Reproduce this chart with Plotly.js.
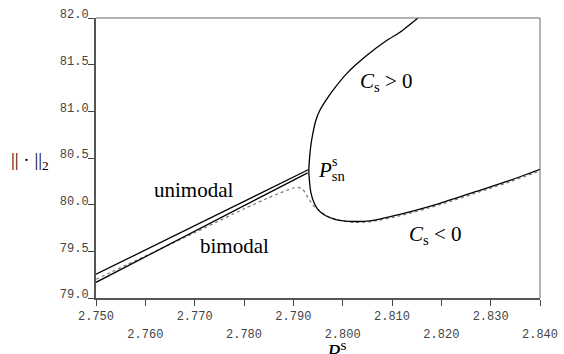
<!DOCTYPE html>
<html>
<head>
<meta charset="utf-8">
<script src="https://cdn.plot.ly/plotly-3.0.1.min.js"></script>
<style>html,body{margin:0;padding:0;background:#fff;}#chart{width:564px;height:354px;}</style>
</head>
<body>
<div id="chart"></div>
<script>
// ---- data ----
const upperP = [2.750, 2.7930];
const upperV = [79.254, 80.374];
const lowerP = [2.750, 2.7929];
const lowerV = [79.168, 80.341];

const foldP = [2.81527, 2.81162, 2.80898, 2.80492, 2.80086, 2.79802, 2.79660, 2.79538, 2.79457, 2.79396, 2.79355, 2.79325, 2.79314, 2.79325, 2.79355, 2.79416, 2.79497, 2.79639, 2.79842, 2.80146, 2.80552, 2.81160, 2.81972, 2.82783, 2.83391, 2.840];
const foldV = [82.000, 81.847, 81.761, 81.600, 81.407, 81.225, 81.118, 81.011, 80.904, 80.765, 80.636, 80.475, 80.363, 80.261, 80.132, 80.025, 79.950, 79.886, 79.843, 79.822, 79.827, 79.897, 80.015, 80.154, 80.261, 80.379];

const dotP = [2.750, 2.760, 2.770, 2.780, 2.785, 2.788, 2.7899, 2.7909, 2.7919, 2.7927, 2.7936, 2.7944, 2.7954, 2.7970, 2.7990, 2.8019, 2.8055, 2.8116, 2.8197, 2.8278, 2.8339, 2.840];
const dotV = [79.200, 79.450, 79.700, 79.955, 80.075, 80.140, 80.176, 80.186, 80.165, 80.100, 80.025, 79.972, 79.929, 79.875, 79.838, 79.811, 79.816, 79.881, 79.999, 80.138, 80.245, 80.363];

const xLabelRow1Vals = [2.75, 2.77, 2.79, 2.81, 2.83];
const xLabelRow1Text = ["2.750", "2.770", "2.790", "2.810", "2.830"];
const xLabelRow2Vals = [2.76, 2.78, 2.80, 2.82, 2.84];
const xLabelRow2Text = ["2.760", "2.780", "2.800", "2.820", "2.840"];
const yTickVals = [79.0, 79.5, 80.0, 80.5, 81.0, 81.5, 82.0];
const yTickText = ["79.0", "79.5", "80.0", "80.5", "81.0", "81.5", "82.0"];

// ---- plot ----
const serif = "Liberation Serif, Times New Roman, serif";
const mono = "Liberation Mono, Courier New, monospace";

const traces = [
  {x: dotP, y: dotV, mode: "lines", line: {color: "#777", width: 1.2, dash: "dot", shape: "spline", smoothing: 0.6}, hoverinfo: "skip"},
  {x: upperP, y: upperV, mode: "lines", line: {color: "#000", width: 1.3}, hoverinfo: "skip"},
  {x: lowerP, y: lowerV, mode: "lines", line: {color: "#000", width: 1.3}, hoverinfo: "skip"},
  {x: foldP, y: foldV, mode: "lines", line: {color: "#000", width: 1.3, shape: "spline", smoothing: 0.5}, hoverinfo: "skip"},
  {x: xLabelRow2Vals, y: xLabelRow2Vals.map(() => null), xaxis: "x2", yaxis: "y", mode: "lines", hoverinfo: "skip", showlegend: false}
];

const axisCommon = {
  showgrid: false, zeroline: false,
  tickfont: {family: mono, size: 12, color: "#444"}
};

const allXTicks = xLabelRow1Vals.concat(xLabelRow2Vals).sort();

const layout = {
  width: 564, height: 354,
  margin: {l: 96, r: 24, t: 18, b: 56},
  paper_bgcolor: "#fff", plot_bgcolor: "#fff",
  showlegend: false,
  xaxis: Object.assign({}, axisCommon, {
    range: [2.75, 2.84], autorange: false,
    tickmode: "array", tickvals: allXTicks,
    ticktext: allXTicks.map(v => {
      const i = xLabelRow1Vals.indexOf(v); return i >= 0 ? xLabelRow1Text[i] : "";
    }),
    ticks: "outside", ticklen: 6, tickwidth: 1, tickcolor: "#444",
    showline: true, linewidth: 2, linecolor: "#555"
  }),
  xaxis2: Object.assign({}, axisCommon, {
    overlaying: "x", anchor: "y", side: "bottom",
    range: [2.75, 2.84], autorange: false,
    tickmode: "array", tickvals: xLabelRow2Vals, ticktext: xLabelRow2Text,
    ticks: "", showline: false, ticklabelstandoff: 27
  }),
  yaxis: Object.assign({}, axisCommon, {
    range: [79.0, 82.0], autorange: false,
    tickmode: "array", tickvals: yTickVals, ticktext: yTickText,
    ticks: "outside", ticklen: 6, tickwidth: 1, tickcolor: "#444",
    showline: true, linewidth: 2, linecolor: "#555",
    ticklabelshift: -4, ticklabelstandoff: -3
  }),
  shapes: [
    {type: "line", xref: "paper", yref: "paper", x0: 0, x1: 1, y0: 1, y1: 1, line: {color: "#666", width: 1}},
    {type: "line", xref: "paper", yref: "paper", x0: 1, x1: 1, y0: 0, y1: 1, line: {color: "#666", width: 1}}
  ],
  annotations: [
    {xref: "paper", yref: "paper", x: -0.195, y: 0.49, xanchor: "left", yanchor: "middle", showarrow: false,
     text: "|| · ||<sub>2</sub>", font: {family: serif, size: 19, color: "#000"}},
    {xref: "paper", yref: "paper", x: 0.54, y: -0.128, xanchor: "center", yanchor: "top", showarrow: false,
     text: "<i>P</i><sup>s</sup>", font: {family: serif, size: 22, color: "#000"}},
    {xref: "paper", yref: "paper", x: 0.126, y: 0.385, xanchor: "left", yanchor: "middle", showarrow: false,
     text: "unimodal", font: {family: serif, size: 21, color: "#000"}},
    {xref: "paper", yref: "paper", x: 0.230, y: 0.185, xanchor: "left", yanchor: "middle", showarrow: false,
     text: "bimodal", font: {family: serif, size: 21, color: "#000"}},
    {xref: "paper", yref: "paper", x: 0.495, y: 0.455, xanchor: "left", yanchor: "middle", showarrow: false,
     text: "<i>P</i><sub>sn</sub>", font: {family: serif, size: 21, color: "#000"}},
    {xref: "paper", yref: "paper", x: 0.528, y: 0.487, xanchor: "left", yanchor: "middle", showarrow: false,
     text: "s", font: {family: serif, size: 14, color: "#000"}},
    {xref: "paper", yref: "paper", x: 0.590, y: 0.77, xanchor: "left", yanchor: "middle", showarrow: false,
     text: "<i>C</i><sub>s</sub> &gt; 0", font: {family: serif, size: 21, color: "#000"}},
    {xref: "paper", yref: "paper", x: 0.700, y: 0.225, xanchor: "left", yanchor: "middle", showarrow: false,
     text: "<i>C</i><sub>s</sub> &lt; 0", font: {family: serif, size: 21, color: "#000"}}
  ]
};

Plotly.newPlot("chart", traces, layout, {staticPlot: true, displayModeBar: false});
</script>
</body>
</html>
